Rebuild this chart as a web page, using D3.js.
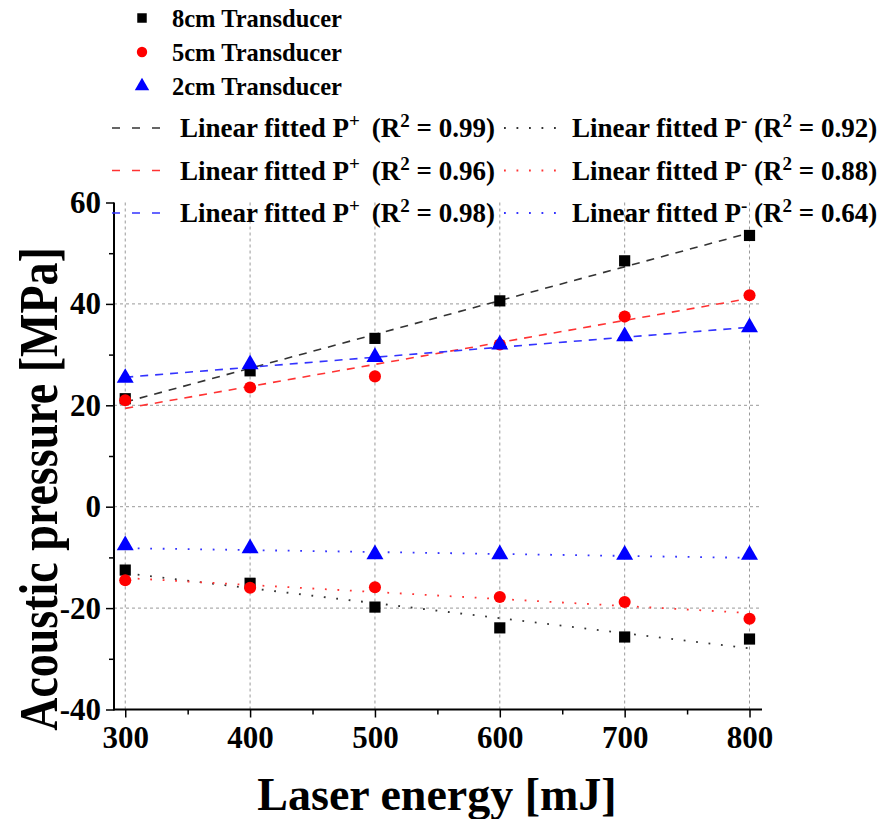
<!DOCTYPE html>
<html>
<head>
<meta charset="utf-8">
<script src="https://cdn.jsdelivr.net/npm/d3@7"></script>
<style>
  html, body { margin: 0; padding: 0; background: #fff; }
  svg { display: block; }
  text { font-family: "Liberation Serif", "Times New Roman", serif; font-weight: bold; fill: #000; }
</style>
</head>
<body>
<svg id="chart" width="880" height="819"></svg>
<script>
// ---- data ----
const energies = [300, 400, 500, 600, 700, 800];
const pos8 = [21.3, 26.8, 33.2, 40.6, 48.5, 53.5];
const neg8 = [-12.5, -15.1, -19.8, -23.9, -25.7, -26.1];
const pos5 = [21.0, 23.5, 25.7, 32.0, 37.5, 41.7];
const neg5 = [-14.5, -16.0, -15.9, -17.8, -18.8, -22.1];
const pos2 = [25.2, 27.9, 29.3, 31.8, 33.4, 35.2];
const neg2 = [-7.8, -8.4, -9.6, -9.6, -9.7, -9.7];
const seriesNames = ["8cm Transducer", "5cm Transducer", "2cm Transducer"];
const r2Pos = ["0.99", "0.96", "0.98"];
const r2Neg = ["0.92", "0.88", "0.64"];
const xTicks = [300, 400, 500, 600, 700, 800];
const xMinorTicks = [350, 450, 550, 650, 750];
const yTicks = [-40, -20, 0, 20, 40, 60];
const yMinorTicks = [-30, -10, 10, 30, 50];
const xTitle = "Laser energy [mJ]";
const yTitle = "Acoustic pressure [MPa]";

const colors = ["#000000", "#ff0000", "#0000ff"];
const fitColors = ["#333333", "#ff3333", "#3333ff"];
const shapes = [d3.symbolSquare, d3.symbolCircle, d3.symbolTriangle];
const posSets = [pos8, pos5, pos2];
const negSets = [neg8, neg5, neg2];

const svg = d3.select("#chart");
const pL = 114, pR = 762, pT = 202.5, pB = 709.5;
const x = d3.scaleLinear().domain([291, 810]).range([pL, pR]);
const y = d3.scaleLinear().domain([-40, 60]).range([pB, pT]);

// grid
const grid = svg.append("g");
grid.selectAll("line.vg").data(xTicks).join("line")
  .attr("x1", d => x(d)).attr("x2", d => x(d))
  .attr("y1", pB).attr("y2", pT)
  .attr("stroke", "#999").attr("stroke-width", 1).attr("stroke-dasharray", "3,3");
grid.selectAll("line.hg").data(yTicks.filter(v => v > -40 && v < 60)).join("line")
  .attr("x1", pL).attr("x2", pR)
  .attr("y1", d => y(d)).attr("y2", d => y(d))
  .attr("stroke", "#999").attr("stroke-width", 1).attr("stroke-dasharray", "3,3");

// least squares fit
function fit(xs, ys) {
  const mx = d3.mean(xs), my = d3.mean(ys);
  let sxy = 0, sxx = 0;
  xs.forEach((xi, i) => { sxy += (xi - mx) * (ys[i] - my); sxx += (xi - mx) * (xi - mx); });
  const b = sxy / sxx, a = my - b * mx;
  return v => a + b * v;
}
const ends = [d3.min(energies), d3.max(energies)];
const fitG = svg.append("g");
[0, 1, 2].forEach(i => {
  const fp = fit(energies, posSets[i]);
  fitG.append("line")
    .attr("x1", x(ends[0])).attr("x2", x(ends[1]))
    .attr("y1", y(fp(ends[0]))).attr("y2", y(fp(ends[1])))
    .attr("stroke", fitColors[i]).attr("stroke-width", 1.6)
    .attr("stroke-dasharray", "8,7");
  const fn = fit(energies, negSets[i]);
  fitG.append("line")
    .attr("x1", x(ends[0])).attr("x2", x(ends[1]))
    .attr("y1", y(fn(ends[0]))).attr("y2", y(fn(ends[1])))
    .attr("stroke", fitColors[i]).attr("stroke-width", 1.8)
    .attr("stroke-dasharray", "1.8,10.7");
});

// markers
const symSizes = [125, 115, 125];
const markG = svg.append("g");
[0, 1, 2].forEach(i => {
  const sym = d3.symbol().type(shapes[i]).size(symSizes[i]);
  [posSets[i], negSets[i]].forEach(vals => {
    markG.selectAll(null).data(vals).join("path")
      .attr("d", sym)
      .attr("transform", (d, j) => `translate(${x(energies[j])},${y(d) + (i === 2 ? -1 : 0)})`)
      .attr("fill", colors[i]);
  });
});

// axes
const fmt = d => String(d);
const xAxis = svg.append("g").attr("transform", `translate(0,${pB})`)
  .call(d3.axisBottom(x).tickValues(xTicks).tickFormat(fmt).tickSize(8).tickSizeOuter(0).tickPadding(6));
xAxis.selectAll(".tick text").attr("font-size", 31).attr("dy", "0.78em");
xAxis.select(".domain").attr("stroke-width", 2).attr("d", `M${pL},0H${pR}`);
xAxis.selectAll(".tick line").attr("stroke-width", 1.5);
svg.append("g").attr("transform", `translate(0,${pB})`)
  .call(d3.axisBottom(x).tickValues(xMinorTicks).tickSize(5).tickFormat(""))
  .call(g => g.select(".domain").remove())
  .selectAll(".tick line").attr("stroke-width", 1.5);

const yAxis = svg.append("g").attr("transform", `translate(${pL},0)`)
  .call(d3.axisLeft(y).tickValues(yTicks).tickFormat(fmt).tickSize(8).tickSizeOuter(0).tickPadding(5));
yAxis.selectAll(".tick text").attr("font-size", 31);
yAxis.select(".domain").attr("stroke-width", 2).attr("d", `M0,${pB + 1}V${pT}`);
yAxis.selectAll(".tick line").attr("stroke-width", 1.5);
svg.append("g").attr("transform", `translate(${pL},0)`)
  .call(d3.axisLeft(y).tickValues(yMinorTicks).tickSize(5).tickFormat(""))
  .call(g => g.select(".domain").remove())
  .selectAll(".tick line").attr("stroke-width", 1.5);
svg.selectAll(".tick text").attr("font-family", null).attr("fill", "#000");

// titles
svg.append("text").attr("x", (pL + pR) / 2 - 1).attr("y", 810)
  .attr("text-anchor", "middle").attr("font-size", 46).text(xTitle);
svg.append("text").attr("transform", `translate(57,489) rotate(-90) scale(1,1.2)`)
  .attr("text-anchor", "middle").attr("font-size", 46).text(yTitle);

// legend: symbols
const legG = svg.append("g");
[0, 1, 2].forEach(i => {
  const cy = 18 + i * 34;
  legG.append("path")
    .attr("d", d3.symbol().type(shapes[i]).size(i === 1 ? 85 : 90))
    .attr("transform", `translate(142,${cy})`).attr("fill", colors[i]);
  legG.append("text").attr("x", 172).attr("y", cy + 9).attr("font-size", 24.5).text(seriesNames[i]);
});
// legend: fits
[0, 1, 2].forEach(i => {
  const ly = 128 + i * 42.5;
  legG.append("line").attr("x1", 112).attr("x2", 162).attr("y1", ly).attr("y2", ly)
    .attr("stroke", fitColors[i]).attr("stroke-width", 1.6).attr("stroke-dasharray", "8,12");
  const t1 = legG.append("text").attr("x", 180).attr("y", ly + 9).attr("font-size", 27);
  t1.append("tspan").text("Linear fitted P");
  t1.append("tspan").attr("font-size", 19).attr("dy", -10).text("+");
  t1.append("tspan").attr("dy", 10).attr("dx", 12).text("(R");
  t1.append("tspan").attr("font-size", 19).attr("dy", -10).text("2");
  t1.append("tspan").attr("dy", 10).text(" = " + r2Pos[i] + ")");

  legG.append("line").attr("x1", 504).attr("x2", 556).attr("y1", ly).attr("y2", ly)
    .attr("stroke", fitColors[i]).attr("stroke-width", 1.8).attr("stroke-dasharray", "1.8,10.7");
  const t2 = legG.append("text").attr("x", 572).attr("y", ly + 9).attr("font-size", 27);
  t2.append("tspan").text("Linear fitted P");
  t2.append("tspan").attr("font-size", 19).attr("dy", -10).text("-");
  t2.append("tspan").attr("dy", 10).text(" (R");
  t2.append("tspan").attr("font-size", 19).attr("dy", -10).text("2");
  t2.append("tspan").attr("dy", 10).text(" = " + r2Neg[i] + ")");
});
</script>
</body>
</html>
